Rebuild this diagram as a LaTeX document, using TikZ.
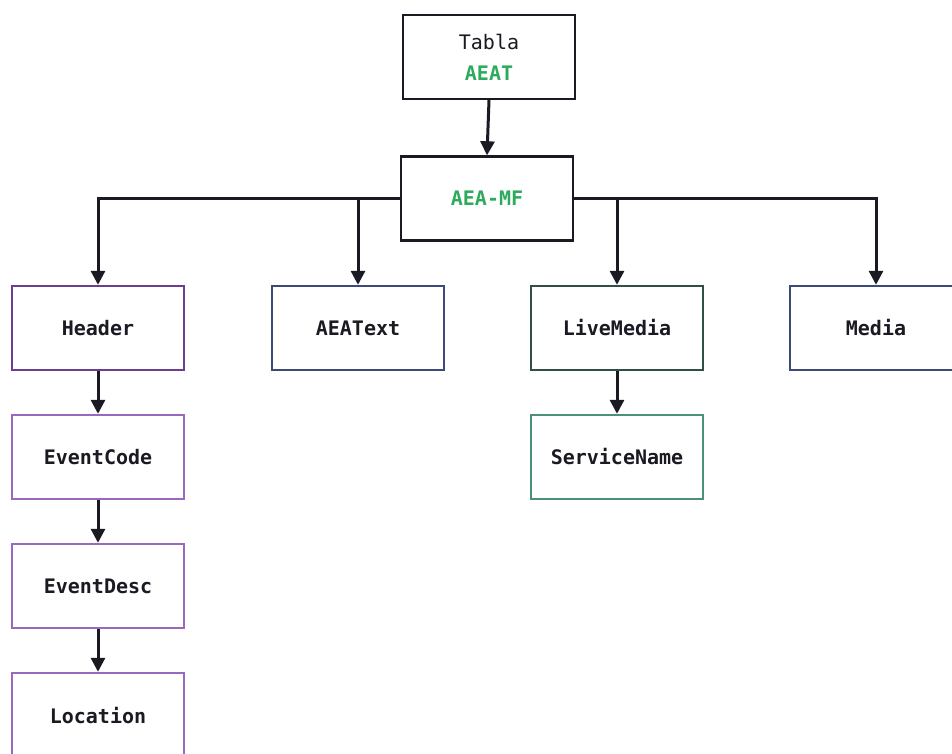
\documentclass[tikz,border=0pt]{standalone}
\usepackage{fontspec}
\setmonofont{DejaVu Sans Mono}
\usetikzlibrary{arrows.meta}
\definecolor{hdrpurple}{HTML}{6B3F8E}
\definecolor{ltpurple}{HTML}{9A68BE}
\definecolor{navy}{HTML}{3B4A78}
\definecolor{dkgreen}{HTML}{2F5048}
\definecolor{teal}{HTML}{4E8F7C}
\definecolor{txtgreen}{HTML}{2EAA5C}
\definecolor{ink}{HTML}{1A1A22}
\tikzset{
  box/.style={draw=#1, line width=2.4pt, fill=white, minimum width=172pt, minimum height=84pt, inner sep=0pt, font=\ttfamily\bfseries\fontsize{20}{24}\selectfont, text=ink},
  conn/.style={draw=ink, line width=3pt, -{Triangle[width=14pt,length=14pt]}}
}
\begin{document}
\begin{tikzpicture}[x=1pt,y=-1pt]
\useasboundingbox (0,0) rectangle (952,753);
\node[box=ink, align=center] (tabla) at (489,57) {\mdseries Tabla\\[7pt]\textcolor{txtgreen}{AEAT}};
\node[box=ink, text=txtgreen] (mf) at (487,198.5) {AEA-MF};
\node[box=hdrpurple] (header) at (98,328) {Header};
\node[box=navy] (aeatext) at (358,328) {AEAText};
\node[box=dkgreen] (live) at (617,328) {LiveMedia};
\node[box=navy] (media) at (876,328) {Media};
\node[box=teal] (svc) at (617,457) {ServiceName};
\node[box=ltpurple] (evcode) at (98,457) {EventCode};
\node[box=ltpurple] (evdesc) at (98,586) {EventDesc};
\node[box=ltpurple] (loc) at (98,715) {Location};
\draw[conn] (tabla.south) -- (mf.north);
\draw[conn] (mf.west) -| (header.north);
\coordinate (jl) at (aeatext.north |- mf.west);
\draw[conn] (jl) -- (aeatext.north);
\draw[conn] (mf.east) -| (media.north);
\coordinate (jr) at (live.north |- mf.east);
\draw[conn] (jr) -- (live.north);
\draw[conn] (header.south) -- (evcode.north);
\draw[conn] (evcode.south) -- (evdesc.north);
\draw[conn] (evdesc.south) -- (loc.north);
\draw[conn] (live.south) -- (svc.north);
\end{tikzpicture}
\end{document}
